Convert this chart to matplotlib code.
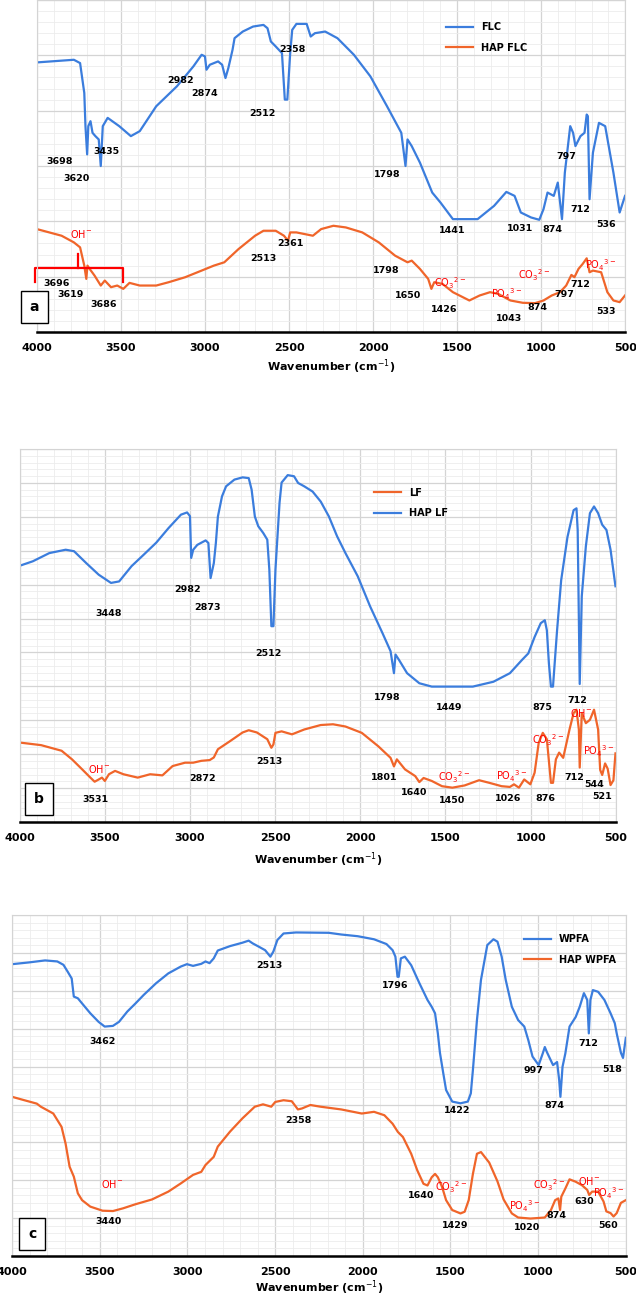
import numpy as np
import matplotlib.pyplot as plt
from matplotlib.ticker import MultipleLocator

BLUE = '#3b7ddd'
ORANGE = '#f0652a'

# ---- panel a ----
flc_wn = [4000, 3780, 3743, 3718, 3711, 3701, 3694, 3681, 3669, 3652, 3632, 3620, 3608, 3579, 3510, 3441, 3388,
          3290, 3167, 3069, 3020, 3000, 2991, 2971, 2922, 2898, 2878, 2861, 2836, 2824, 2775, 2714, 2652, 2628,
          2608, 2579, 2542, 2525, 2510, 2493, 2481, 2456, 2395, 2371, 2346, 2285, 2212, 2114, 2016, 1917, 1832,
          1807, 1795, 1770, 1721, 1648, 1599, 1525, 1378, 1280, 1207, 1158, 1121, 1060, 1011, 986, 962, 925, 901,
          876, 859, 827, 810, 796, 766, 742, 729, 722, 712, 692, 656, 619, 570, 533, 501]
flc_t = [81.2, 82, 81, 72, 62, 53.5, 62, 63.5, 60, 59, 58, 50, 62, 64.5, 62, 59, 60.5, 68, 74, 80, 83.5, 83,
         79, 80.5, 81.5, 80.5, 76.5, 79.5, 85, 88.5, 90.5, 92, 92.5, 91.5, 87.5, 86, 84, 70, 70, 84, 91, 92.8,
         92.8, 89, 90, 90.5, 88.5, 83.5, 77, 68, 60, 50, 58, 56, 51, 42, 39, 34, 34, 38, 42.2, 41, 36, 34.5, 33.8,
         37, 42, 41, 45, 34, 48, 62, 60, 56, 59, 60, 65.5, 65, 40, 54, 63, 62, 48, 36, 41]
hapflc_wn = [4000, 3853, 3780, 3743, 3718, 3706, 3699, 3686, 3657, 3620, 3596, 3559, 3522, 3486, 3449, 3388, 3290,
             3216, 3118, 3020, 2947, 2885, 2800, 2702, 2652, 2579, 2530, 2506, 2493, 2456, 2407, 2358, 2309, 2236,
             2162, 2064, 1966, 1869, 1795, 1770, 1721, 1672, 1653, 1636, 1587, 1525, 1427, 1366, 1304, 1256, 1183,
             1109, 1036, 986, 937, 888, 851, 820, 802, 778, 753, 729, 712, 692, 643, 606, 570, 533, 501]
hapflc_t = [31, 29, 27, 25.5, 20, 16, 20, 19, 17, 14, 15.5, 13.5, 14, 13, 14.8, 14, 14, 15, 16.5, 18.5, 20, 21,
            25, 29, 30.5, 30.5, 29, 27.5, 30, 30, 29.5, 29, 31, 32, 31.5, 30, 27, 23, 21, 21.5, 19, 16, 13, 15,
            14.5, 12, 9.5, 11, 12, 11.5, 9.5, 8.8, 8.7, 9.5, 11, 12, 14, 17.2, 16.5, 19, 20.5, 22.2, 18, 18.5, 18,
            12, 9.5, 9, 11]
a_black = [('3698', 3865, 51.5), ('3620', 3762, 46.3), ('3435', 3584, 54.5), ('2982', 3145, 75.9),
           ('2874', 3003, 71.8), ('2512', 2656, 65.7), ('2358', 2481, 85.2), ('1798', 1917, 47.3),
           ('1441', 1532, 30.7), ('1031', 1127, 31.2), ('874', 933, 31), ('797', 852, 53), ('712', 766, 36.8),
           ('536', 612, 32.4), ('3696', 3880, 14.5), ('3619', 3799, 11.2), ('3686', 3603, 8.4),
           ('2513', 2652, 22.2), ('2361', 2494, 26.7), ('1798', 1922, 18.5), ('1650', 1794, 10.9),
           ('1426', 1578, 6.7), ('1043', 1189, 4.2), ('874', 1023, 7.5), ('797', 862, 11.3), ('712', 766, 14.2),
           ('533', 612, 6.2)]
a_red = [('OH$^{-}$', 3738, 29.4), ('CO$_3$$^{2-}$', 1544, 14.8), ('PO$_4$$^{3-}$', 1208, 11.3),
         ('CO$_3$$^{2-}$', 1040, 17.2), ('PO$_4$$^{3-}$', 648, 20.2)]

# ---- panel b ----
haplf_wn = [4000, 3923, 3826, 3730, 3681, 3609, 3536, 3464, 3416, 3343, 3271, 3198, 3126, 3053, 3017, 3000, 2993,
            2981, 2957, 2908, 2892, 2879, 2860, 2848, 2836, 2812, 2788, 2739, 2691, 2655, 2638, 2619, 2599, 2570,
            2546, 2534, 2522, 2510, 2498, 2474, 2462, 2426, 2389, 2365, 2329, 2280, 2232, 2184, 2136, 2087, 2015,
            1942, 1870, 1822, 1802, 1793, 1773, 1725, 1653, 1580, 1339, 1218, 1121, 1049, 1013, 976, 940, 916, 904,
            892, 880, 868, 844, 820, 783, 747, 730, 723, 711, 699, 675, 651, 627, 603, 579, 554, 530, 501]
haplf_t = [68.7, 69.9, 72.1, 73, 72.6, 69.4, 66.3, 64.1, 64.5, 68.6, 71.7, 74.9, 78.8, 82.4, 83, 82, 70.8, 73,
           74.3, 75.5, 74.8, 65.4, 69.4, 74.8, 81.9, 87.3, 90, 91.8, 92.4, 92.2, 89.1, 81.9, 79.3, 77.5, 75.7,
           67.7, 52.5, 52.5, 67.7, 85.6, 91, 93, 92.7, 90.9, 90, 88.6, 85.9, 81.9, 76.6, 72.1, 65.9, 57.8, 50.7,
           45.8, 39.9, 44.9, 43.5, 39.9, 37.2, 36.3, 36.3, 37.6, 39.9, 43.5, 45.2, 49.6, 53.3, 54.1, 51.4, 42.5,
           36.3, 36.3, 51.4, 64.8, 76.4, 83.6, 84.1, 78.3, 37, 60.5, 73.9, 82.8, 84.6, 82.8, 79.7, 78.3, 73, 63.2]
lf_wn = [4000, 3874, 3754, 3693, 3633, 3585, 3560, 3536, 3517, 3500, 3476, 3440, 3391, 3307, 3234, 3162, 3102,
         3029, 2981, 2933, 2884, 2860, 2836, 2764, 2691, 2655, 2607, 2546, 2522, 2510, 2498, 2462, 2401, 2329,
         2232, 2160, 2087, 1991, 1894, 1822, 1802, 1785, 1737, 1677, 1653, 1628, 1580, 1520, 1459, 1387, 1302,
         1242, 1170, 1121, 1097, 1068, 1037, 1001, 976, 952, 928, 904, 880, 868, 851, 832, 808, 771, 747, 730,
         716, 711, 699, 675, 651, 627, 603, 591, 579, 562, 547, 530, 513, 501]
lf_t = [21.3, 20.6, 19.1, 16.8, 14.1, 11.9, 10.8, 11.4, 11.9, 11, 12.8, 13.7, 12.8, 11.9, 12.8, 12.5, 15, 15.9,
        15.9, 16.4, 16.6, 17.3, 19.5, 21.7, 24, 24.6, 24, 22.2, 19.9, 20.8, 23.9, 24.3, 23.5, 24.8, 26, 26.2,
        25.6, 23.9, 20.3, 17.2, 14.9, 16.8, 14.1, 12.3, 10.7, 11.8, 11, 9.6, 9.2, 9.8, 11.2, 10.5, 9.6, 9.4,
        10.1, 9.2, 11.4, 10.1, 13.2, 21.2, 23.9, 22.2, 10.5, 10.5, 16.8, 18.6, 17.2, 24.8, 29.2, 30.1, 24.8,
        14.6, 29.2, 26.5, 27.4, 30.1, 24.8, 14, 12.6, 15.7, 14.3, 9.9, 11.2, 18.4]
b_black = [('2982', 3017, 62.3), ('2873', 2896, 57.6), ('3448', 3476, 56), ('2512', 2537, 45.1),
           ('1798', 1841, 33.5), ('1449', 1479, 30.8), ('875', 928, 30.6), ('712', 725, 32.5),
           ('3531', 3553, 6), ('2872', 2925, 11.7), ('2513', 2532, 16.1), ('1801', 1858, 11.9),
           ('1640', 1684, 7.8), ('1450', 1462, 5.8), ('1026', 1129, 6.3), ('876', 914, 6.3),
           ('712', 744, 11.9), ('544', 629, 10), ('521', 578, 6.9)]
b_red = [('OH$^{-}$', 3536, 14.3), ('CO$_3$$^{2-}$', 1447, 11.9), ('PO$_4$$^{3-}$', 1109, 12.2),
         ('CO$_3$$^{2-}$', 897, 21.8), ('OH$^{-}$', 706, 29.2), ('PO$_4$$^{3-}$', 602, 19.1)]

# ---- panel c ----
wpfa_wn = [4000, 3906, 3812, 3742, 3707, 3683, 3660, 3648, 3625, 3601, 3554, 3507, 3472, 3425, 3390, 3343, 3296,
           3249, 3179, 3109, 3038, 3003, 2968, 2921, 2897, 2874, 2850, 2827, 2757, 2686, 2651, 2628, 2592, 2557,
           2527, 2510, 2487, 2452, 2381, 2194, 2123, 2029, 1936, 1865, 1830, 1814, 1802, 1795, 1783, 1760, 1724,
           1677, 1631, 1607, 1588, 1572, 1560, 1541, 1525, 1490, 1443, 1401, 1384, 1372, 1349, 1326, 1290, 1255,
           1232, 1208, 1185, 1150, 1114, 1079, 1056, 1032, 997, 974, 962, 950, 915, 892, 880, 873, 861, 845, 821,
           786, 763, 739, 720, 711, 702, 688, 658, 622, 587, 563, 552, 528, 516, 500]
wpfa_t = [85.6, 86.1, 86.7, 86.4, 85.4, 83.4, 81.4, 76.1, 75.6, 74.1, 71.2, 68.7, 67.3, 67.5, 68.7, 71.7, 74.1,
          76.6, 80, 82.9, 84.9, 85.6, 85.1, 85.7, 86.4, 85.9, 87.3, 89.6, 90.9, 91.9, 92.5, 91.7, 90.7, 89.7,
          87.8, 89.3, 92.7, 94.6, 94.9, 94.8, 94.3, 93.8, 92.9, 91.5, 89.7, 87.8, 81.9, 81.9, 87.3, 87.8, 85.3,
          80, 75.1, 73.1, 71.2, 65.3, 59.6, 53.6, 48.7, 45.3, 44.8, 45.3, 47.7, 54.6, 69.2, 81, 91.2, 92.9, 92.2,
          87.8, 81, 73.1, 69.2, 67.3, 63.3, 58.5, 56, 59.4, 61.3, 59.8, 56, 56.9, 51.6, 46.7, 55.5, 59.4, 67.3,
          70.1, 73.1, 77.1, 75.1, 65.3, 75.1, 78, 77.5, 75.1, 71.2, 68.3, 65.3, 59.6, 58.1, 64]
hapwpfa_wn = [4000, 3930, 3859, 3836, 3765, 3718, 3695, 3672, 3648, 3625, 3601, 3554, 3484, 3425, 3367, 3296,
              3202, 3109, 3038, 2968, 2921, 2897, 2850, 2827, 2757, 2686, 2616, 2569, 2522, 2499, 2452, 2405, 2370,
              2346, 2323, 2299, 2241, 2123, 2006, 1936, 1877, 1830, 1800, 1771, 1724, 1689, 1654, 1631, 1607, 1588,
              1572, 1548, 1525, 1490, 1443, 1419, 1396, 1372, 1349, 1326, 1279, 1232, 1197, 1150, 1114, 1044, 962,
              927, 903, 885, 875, 868, 845, 821, 786, 751, 720, 709, 692, 658, 627, 611, 587, 570, 552, 528, 500]
hapwpfa_t = [46.7, 45.7, 44.7, 43.8, 41.8, 37.9, 33, 26.2, 23.3, 18.4, 16.4, 14.5, 13.3, 13.2, 14, 15.2, 16.6,
             18.9, 21.3, 23.8, 24.7, 26.7, 29.1, 32.1, 36.5, 40.4, 43.8, 44.5, 43.8, 45.2, 45.7, 45.4, 43, 43.3,
             43.8, 44.3, 43.8, 43, 41.8, 42.3, 41.3, 38.8, 36.4, 34.9, 30, 25.1, 21.2, 20.7, 23.1, 24.1, 23.1, 20.3,
             16.4, 13.5, 12.5, 13, 16.4, 24.1, 30, 30.5, 27.4, 21.9, 16.6, 12.5, 11.3, 11, 11.3, 13.5, 16.4, 16.9,
             13.5, 17.4, 19.8, 22.5, 21.8, 20.8, 19.4, 17.9, 18.9, 18.9, 16, 13.1, 12.6, 11.6, 12.6, 15.6, 16.4]
c_black = [('2513', 2534, 85.3), ('3462', 3484, 62.9), ('1796', 1814, 79.3), ('1422', 1459, 42.6),
           ('997', 1025, 54.3), ('874', 908, 44.3), ('712', 716, 62.4), ('518', 575, 54.8),
           ('2358', 2367, 39.7), ('1640', 1670, 17.9), ('1429', 1473, 9.1), ('3440', 3453, 10.1),
           ('1020', 1063, 8.4), ('874', 894, 12), ('630', 739, 15.9), ('560', 603, 9)]
c_red = [('OH$^{-}$', 3432, 21), ('CO$_3$$^{2-}$', 1495, 20.3), ('PO$_4$$^{3-}$', 1079, 14.5),
         ('CO$_3$$^{2-}$', 938, 20.8), ('OH$^{-}$', 709, 22), ('PO$_4$$^{3-}$', 598, 18.4)]


def style(ax, ydiv, letter, box):
    ax.set_xlim(4000, 500)
    ax.set_ylim(0, 100)
    ax.xaxis.set_major_locator(MultipleLocator(500))
    ax.xaxis.set_minor_locator(MultipleLocator(100))
    ax.yaxis.set_major_locator(MultipleLocator(100 / ydiv))
    ax.yaxis.set_minor_locator(MultipleLocator(100 / ydiv / 5))
    ax.grid(which='major', color='#d4d4d4', lw=0.9)
    ax.grid(which='minor', color='#ececec', lw=0.6)
    ax.set_axisbelow(True)
    ax.tick_params(axis='y', which='both', left=False, labelleft=False)
    ax.tick_params(axis='x', which='both', length=0, labelsize=8, pad=8)
    for lab in ax.get_xticklabels():
        lab.set_fontweight('bold')
    for s in ['top', 'left', 'right']:
        ax.spines[s].set_color('#d4d4d4')
    ax.spines['bottom'].set_linewidth(1.8)
    ax.text(box[0], box[1], letter, transform=ax.transAxes, fontsize=10, fontweight='bold',
            ha='center', va='center',
            bbox=dict(boxstyle='square,pad=0.65', fc='white', ec='black', lw=1))


def labels(ax, black, red):
    for t, x, y in black:
        ax.text(x, y, t, fontsize=6.8, fontweight='bold', ha='center', va='center')
    for t, x, y in red:
        ax.text(x, y, t, fontsize=7, color='red', ha='center', va='center')


fig = plt.figure(figsize=(6.36, 13), dpi=100)

axa = fig.add_axes([0.058, 0.7446, 0.925, 0.2554])
axa.plot(flc_wn, flc_t, color=BLUE, lw=1.6, label='FLC')
axa.plot(hapflc_wn, hapflc_t, color=ORANGE, lw=1.6, label='HAP FLC')
axa.plot([4012, 4012, 3486, 3486], [15, 19.2, 19.2, 15], color='red', lw=1.6, clip_on=False)
axa.plot([3755, 3755], [19.2, 23.5], color='red', lw=1.6)
style(axa, 6, 'a', (-0.004, 0.074))
labels(axa, a_black, a_red)
axa.set_xlabel('Wavenumber (cm$^{-1}$)', fontsize=8, fontweight='bold', labelpad=3)
axa.legend(loc='upper left', bbox_to_anchor=(0.68, 0.96), frameon=False, prop={'weight': 'bold', 'size': 7},
           handlelength=2.8, labelspacing=1.1)

axb = fig.add_axes([0.031, 0.3677, 0.937, 0.2869])
axb.plot(lf_wn, lf_t, color=ORANGE, lw=1.6, label='LF')
axb.plot(haplf_wn, haplf_t, color=BLUE, lw=1.6, label='HAP LF')
style(axb, 11, 'b', (0.032, 0.062))
labels(axb, b_black, b_red)
axb.set_xlabel('Wavenumber (cm$^{-1}$)', fontsize=8, fontweight='bold', labelpad=5)
axb.legend(loc='upper left', bbox_to_anchor=(0.58, 0.92), frameon=False, prop={'weight': 'bold', 'size': 7},
           handlelength=2.8, labelspacing=1.1)

axc = fig.add_axes([0.019, 0.0338, 0.965, 0.2623])
axc.plot(wpfa_wn, wpfa_t, color=BLUE, lw=1.6, label='WPFA')
axc.plot(hapwpfa_wn, hapwpfa_t, color=ORANGE, lw=1.6, label='HAP WPFA')
style(axc, 9, 'c', (0.033, 0.064))
labels(axc, c_black, c_red)
axc.set_xlabel('Wavenumber (cm$^{-1}$)', fontsize=8, fontweight='bold', labelpad=1)
axc.legend(loc='upper left', bbox_to_anchor=(0.82, 0.97), frameon=False, prop={'weight': 'bold', 'size': 7},
           handlelength=2.8, labelspacing=1.1)

fig.savefig('out.png', dpi=100)
